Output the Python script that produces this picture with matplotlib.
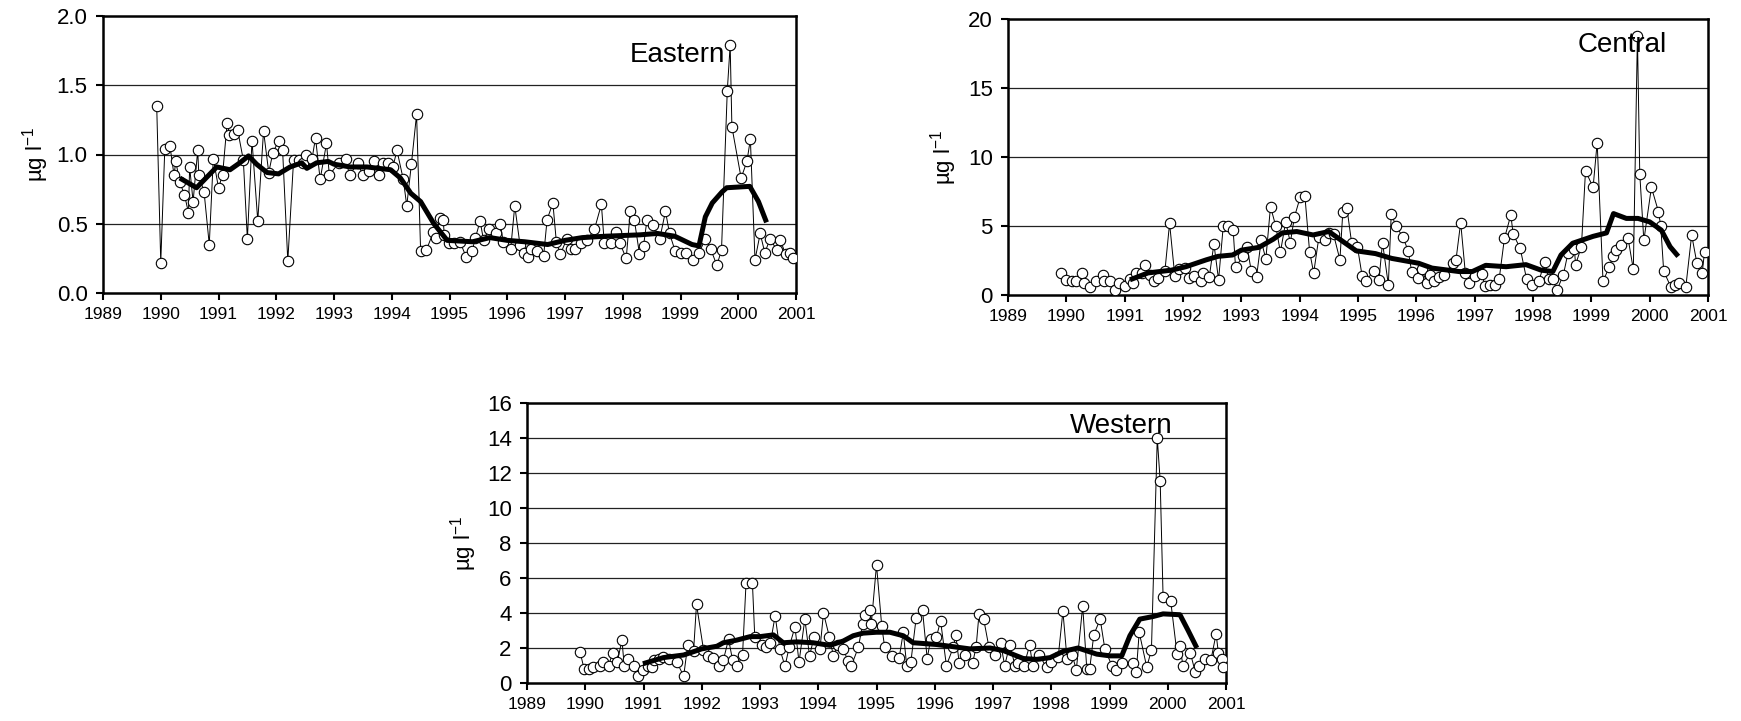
import numpy as np
import matplotlib
matplotlib.use('Agg')
import matplotlib.pyplot as plt

plt.rcParams['font.family'] = ['Liberation Sans', 'DejaVu Sans']
plt.rcParams['mathtext.fontset'] = 'custom'
plt.rcParams['mathtext.rm'] = 'Liberation Sans'

# ---- Eastern: samples (decimal year, ug/l) and running mean
east_t = [1989.93, 1990.00, 1990.07, 1990.16, 1990.23, 1990.26, 1990.33, 1990.41, 1990.48, 1990.50,
          1990.56, 1990.64, 1990.66, 1990.75, 1990.84, 1990.91, 1991.00, 1991.07, 1991.15, 1991.19,
          1991.27, 1991.33, 1991.43, 1991.50, 1991.58, 1991.68, 1991.78, 1991.87, 1991.94, 1992.04,
          1992.11, 1992.20, 1992.30, 1992.39, 1992.46, 1992.52, 1992.62, 1992.68, 1992.76, 1992.87,
          1992.92, 1993.08, 1993.20, 1993.27, 1993.41, 1993.50, 1993.60, 1993.69, 1993.78, 1993.85,
          1993.93, 1994.02, 1994.09, 1994.20, 1994.26, 1994.34, 1994.43, 1994.50, 1994.60, 1994.72,
          1994.76, 1994.83, 1994.89, 1994.91, 1994.99, 1995.08, 1995.18, 1995.29, 1995.39, 1995.45,
          1995.53, 1995.59, 1995.68, 1995.80, 1995.88, 1995.93, 1996.06, 1996.13, 1996.22, 1996.29,
          1996.36, 1996.41, 1996.51, 1996.63, 1996.69, 1996.79, 1996.85, 1996.92, 1997.03, 1997.11,
          1997.18, 1997.27, 1997.38, 1997.51, 1997.63, 1997.68, 1997.79, 1997.89, 1997.95, 1998.06,
          1998.13, 1998.20, 1998.29, 1998.36, 1998.42, 1998.53, 1998.64, 1998.74, 1998.81, 1998.91,
          1999.00, 1999.10, 1999.22, 1999.32, 1999.43, 1999.52, 1999.63, 1999.71, 1999.81, 1999.86,
          1999.89, 2000.05, 2000.15, 2000.21, 2000.29, 2000.38, 2000.46, 2000.55, 2000.67, 2000.73,
          2000.82, 2000.90, 2000.95]
east_v = [1.35, 0.22, 1.04, 1.06, 0.85, 0.95, 0.80, 0.71, 0.58, 0.91,
          0.66, 1.03, 0.85, 0.73, 0.35, 0.97, 0.76, 0.85, 1.23, 1.14,
          1.15, 1.18, 0.96, 0.39, 1.10, 0.52, 1.17, 0.87, 1.01, 1.10,
          1.03, 0.23, 0.96, 0.96, 0.94, 1.00, 0.97, 1.12, 0.82, 1.08,
          0.85, 0.94, 0.97, 0.85, 0.94, 0.85, 0.88, 0.95, 0.85, 0.94,
          0.94, 0.91, 1.03, 0.82, 0.63, 0.93, 1.29, 0.30, 0.31, 0.44,
          0.40, 0.54, 0.53, 0.42, 0.36, 0.36, 0.37, 0.26, 0.30, 0.40,
          0.52, 0.38, 0.46, 0.43, 0.50, 0.37, 0.32, 0.63, 0.35, 0.29,
          0.26, 0.32, 0.30, 0.27, 0.53, 0.65, 0.37, 0.28, 0.39, 0.32,
          0.32, 0.36, 0.38, 0.46, 0.64, 0.36, 0.36, 0.44, 0.36, 0.25,
          0.59, 0.53, 0.28, 0.34, 0.53, 0.49, 0.39, 0.59, 0.43, 0.30,
          0.29, 0.29, 0.24, 0.29, 0.39, 0.32, 0.20, 0.31, 1.46, 1.79,
          1.20, 0.83, 0.95, 1.11, 0.24, 0.43, 0.29, 0.39, 0.31, 0.38,
          0.28, 0.29, 0.25]
east_mt = [1990.33, 1990.62, 1990.97, 1991.20, 1991.37, 1991.52, 1991.66, 1991.84, 1992.04, 1992.24,
           1992.44, 1992.53, 1992.70, 1992.90, 1993.00, 1993.28, 1993.57, 1993.98, 1994.15, 1994.33,
           1994.50, 1994.73, 1994.96, 1995.40, 1995.70, 1996.00, 1996.30, 1996.70, 1997.00, 1997.30,
           1997.70, 1998.30, 1998.60, 1998.90, 1999.20, 1999.32, 1999.43, 1999.55, 1999.72, 1999.80,
           2000.20, 2000.35, 2000.49]
east_mv = [0.83, 0.76, 0.91, 0.89, 0.94, 0.99, 0.93, 0.87, 0.86, 0.91,
           0.94, 0.90, 0.94, 0.95, 0.93, 0.91, 0.91, 0.89, 0.83, 0.72,
           0.66, 0.50, 0.38, 0.37, 0.40, 0.38, 0.37, 0.35, 0.38, 0.40,
           0.41, 0.42, 0.43, 0.41, 0.35, 0.34, 0.55, 0.65, 0.73, 0.76,
           0.77, 0.66, 0.51]

# ---- Central
cent_t = [1989.91, 1989.99, 1990.09, 1990.16, 1990.26, 1990.30, 1990.40, 1990.50, 1990.62, 1990.64,
          1990.74, 1990.83, 1990.90, 1991.00, 1991.09, 1991.15, 1991.20, 1991.29, 1991.34, 1991.43,
          1991.50, 1991.57, 1991.69, 1991.77, 1991.86, 1991.93, 1992.03, 1992.11, 1992.18, 1992.30,
          1992.35, 1992.45, 1992.53, 1992.61, 1992.69, 1992.77, 1992.86, 1992.90, 1993.03, 1993.10,
          1993.17, 1993.26, 1993.34, 1993.42, 1993.50, 1993.59, 1993.67, 1993.76, 1993.84, 1993.91,
          1994.01, 1994.09, 1994.17, 1994.24, 1994.33, 1994.43, 1994.51, 1994.58, 1994.69, 1994.74,
          1994.81, 1994.89, 1994.99, 1995.07, 1995.14, 1995.27, 1995.36, 1995.42, 1995.52, 1995.57,
          1995.65, 1995.77, 1995.86, 1995.92, 1996.02, 1996.09, 1996.19, 1996.23, 1996.30, 1996.38,
          1996.48, 1996.62, 1996.68, 1996.76, 1996.84, 1996.91, 1997.01, 1997.12, 1997.18, 1997.26,
          1997.35, 1997.42, 1997.51, 1997.62, 1997.66, 1997.78, 1997.89, 1997.99, 1998.10, 1998.20,
          1998.27, 1998.34, 1998.41, 1998.52, 1998.60, 1998.71, 1998.73, 1998.83, 1998.90, 1999.03,
          1999.10, 1999.20, 1999.31, 1999.37, 1999.43, 1999.50, 1999.63, 1999.72, 1999.79, 1999.83,
          1999.90, 2000.03, 2000.15, 2000.19, 2000.24, 2000.36, 2000.44, 2000.51, 2000.62, 2000.72,
          2000.81, 2000.90, 2000.94]
cent_v = [1.6, 1.1, 1.0, 1.0, 1.6, 0.85, 0.6, 1.0, 1.45, 1.0,
          1.0, 0.35, 0.9, 0.65, 1.15, 0.9, 1.6, 1.6, 2.2, 1.45,
          1.0, 1.25, 1.75, 5.2, 1.35, 1.85, 1.95, 1.2, 1.4, 1.0,
          1.6, 1.3, 3.7, 1.1, 5.0, 5.0, 4.7, 2.05, 2.8, 3.45,
          1.75, 1.3, 3.95, 2.6, 6.4, 5.0, 3.1, 5.3, 3.8, 5.65,
          7.1, 7.15, 3.15, 1.6, 4.2, 3.95, 4.5, 4.4, 2.55, 6.05,
          6.3, 3.8, 3.5, 1.4, 1.05, 1.75, 1.1, 3.8, 0.75, 5.9,
          5.0, 4.2, 3.2, 1.7, 1.2, 1.85, 0.85, 1.45, 1.0, 1.3,
          1.45, 2.3, 2.55, 5.25, 1.6, 0.9, 1.4, 1.55, 0.65, 0.7,
          0.7, 1.15, 4.1, 5.8, 4.4, 3.4, 1.15, 0.75, 1.0, 2.4,
          1.15, 1.15, 0.35, 1.45, 3.05, 3.3, 2.2, 3.5, 9.0, 7.8,
          11.05, 1.0, 2.05, 2.8, 3.25, 3.6, 4.1, 1.85, 18.8, 8.8,
          3.95, 7.8, 6.05, 5.0, 1.75, 0.6, 0.75, 0.85, 0.6, 4.35,
          2.3, 1.6, 3.1]
cent_mt = [1991.09, 1991.40, 1991.80, 1992.05, 1992.40, 1992.60, 1992.85, 1993.00, 1993.30, 1993.55,
           1993.70, 1993.95, 1994.23, 1994.50, 1994.75, 1994.97, 1995.30, 1995.58, 1996.04, 1996.27,
           1996.73, 1996.96, 1997.19, 1997.54, 1997.88, 1998.14, 1998.34, 1998.48, 1998.68, 1999.03,
           1999.26, 1999.38, 1999.60, 1999.80, 2000.00, 2000.20, 2000.35, 2000.49]
cent_mv = [1.10, 1.60, 1.80, 2.05, 2.55, 2.80, 2.90, 3.25, 3.45, 4.05,
           4.50, 4.60, 4.35, 4.60, 3.85, 3.20, 3.00, 2.65, 2.30, 1.95,
           1.70, 1.70, 2.15, 2.05, 2.20, 1.80, 1.70, 2.90, 3.75, 4.25,
           4.50, 5.90, 5.55, 5.55, 5.30, 4.70, 3.50, 2.80]

# ---- Western
west_t = [1989.91, 1989.98, 1990.06, 1990.14, 1990.26, 1990.31, 1990.40, 1990.47, 1990.55, 1990.63,
          1990.67, 1990.74, 1990.83, 1990.91, 1990.99, 1991.07, 1991.14, 1991.18, 1991.26, 1991.33,
          1991.43, 1991.57, 1991.69, 1991.76, 1991.86, 1991.91, 1992.03, 1992.11, 1992.19, 1992.29,
          1992.37, 1992.46, 1992.53, 1992.61, 1992.70, 1992.76, 1992.87, 1992.91, 1993.03, 1993.10,
          1993.18, 1993.26, 1993.34, 1993.43, 1993.50, 1993.60, 1993.67, 1993.77, 1993.85, 1993.93,
          1994.03, 1994.09, 1994.19, 1994.26, 1994.34, 1994.43, 1994.51, 1994.57, 1994.69, 1994.76,
          1994.80, 1994.89, 1994.91, 1995.00, 1995.09, 1995.14, 1995.27, 1995.39, 1995.46, 1995.52,
          1995.59, 1995.68, 1995.79, 1995.87, 1995.93, 1996.03, 1996.10, 1996.20, 1996.32, 1996.36,
          1996.42, 1996.52, 1996.65, 1996.71, 1996.76, 1996.84, 1996.93, 1997.03, 1997.13, 1997.20,
          1997.29, 1997.38, 1997.43, 1997.53, 1997.63, 1997.68, 1997.79, 1997.92, 1998.00, 1998.12,
          1998.20, 1998.27, 1998.36, 1998.43, 1998.54, 1998.61, 1998.66, 1998.73, 1998.84, 1998.92,
          1999.04, 1999.11, 1999.21, 1999.40, 1999.46, 1999.51, 1999.64, 1999.72, 1999.82, 1999.87,
          1999.92, 2000.05, 2000.16, 2000.21, 2000.26, 2000.39, 2000.47, 2000.54, 2000.64, 2000.74,
          2000.83, 2000.87, 2000.93, 2000.95]
west_v = [1.8, 0.8, 0.8, 0.9, 0.95, 1.2, 1.0, 1.7, 1.2, 2.45,
          0.95, 1.35, 1.0, 0.4, 0.75, 1.0, 0.9, 1.3, 1.35, 1.5,
          1.35, 1.2, 0.4, 2.2, 1.85, 4.5, 1.9, 1.55, 1.45, 0.95,
          1.3, 2.5, 1.3, 0.95, 1.6, 5.7, 5.7, 2.65, 2.15, 2.05,
          2.3, 3.85, 1.95, 0.95, 2.05, 3.2, 1.2, 3.65, 1.55, 2.65,
          1.95, 4.0, 2.65, 1.55, 2.2, 1.95, 1.25, 1.0, 2.05, 3.35,
          3.9, 4.15, 3.35, 6.75, 3.25, 2.05, 1.55, 1.45, 2.9, 0.95,
          1.2, 3.7, 4.15, 1.4, 2.5, 2.65, 3.55, 1.0, 2.05, 2.75,
          1.15, 1.6, 1.15, 2.05, 3.95, 3.65, 2.05, 1.6, 2.3, 1.0,
          2.2, 0.95, 1.15, 1.0, 2.15, 1.0, 1.6, 0.9, 1.2, 1.5,
          4.1, 1.4, 1.6, 0.75, 4.4, 0.8, 0.8, 2.75, 3.65, 1.95,
          1.0, 0.75, 1.15, 1.15, 0.65, 2.9, 0.9, 1.9, 14.0, 11.55,
          4.9, 4.7, 1.65, 2.1, 1.0, 1.7, 0.65, 1.0, 1.35, 1.3,
          2.8, 1.7, 1.35, 0.9]
west_mt = [1990.99, 1991.34, 1991.69, 1992.00, 1992.26, 1992.37, 1992.60, 1992.83, 1993.00, 1993.23,
           1993.40, 1993.63, 1993.91, 1994.20, 1994.43, 1994.60, 1994.77, 1995.00, 1995.23, 1995.46,
           1995.63, 1996.03, 1996.26, 1996.60, 1996.95, 1997.18, 1997.52, 1997.75, 1997.98, 1998.20,
           1998.46, 1998.78, 1999.01, 1999.21, 1999.35, 1999.52, 1999.75, 1999.92, 2000.21, 2000.35,
           2000.50]
west_mv = [1.10, 1.45, 1.60, 1.95, 2.10, 2.30, 2.45, 2.65, 2.65, 2.75,
           2.30, 2.35, 2.30, 2.15, 2.40, 2.70, 2.85, 2.90, 2.90, 2.70,
           2.30, 2.20, 2.10, 1.95, 2.00, 1.85, 1.40, 1.35, 1.45, 1.80,
           2.00, 1.65, 1.55, 1.55, 2.70, 3.65, 3.80, 3.95, 3.90, 3.00,
           2.00]

years = np.arange(1989, 2002)

W, H = 1741, 721
fig = plt.figure(figsize=(W/100., H/100.), dpi=100)


def panel(box, t, v, mt, mv, yticks, fmt, name, name_xy, lab_x):
    l, t0, r, b = box
    ax = fig.add_axes([l/W, 1 - b/H, (r - l)/W, (b - t0)/H])
    ax.plot(t, v, '-', color='k', lw=0.7, zorder=3)
    ax.plot(t, v, 'o', mfc='white', mec='k', ms=7.5, mew=0.8, zorder=4)
    ax.plot(mt, mv, '-', color='k', lw=3.6, zorder=5, solid_capstyle='butt')
    ax.set_xlim(1989, 2001)
    ax.set_ylim(yticks[0], yticks[-1])
    ax.set_yticks(yticks)
    ax.set_yticklabels([fmt % y for y in yticks], fontsize=16)
    ax.set_xticks(years)
    ax.set_xticklabels([str(y) for y in years], fontsize=12.5,
                       family=['Liberation Sans Narrow', 'Liberation Sans'])
    for y in yticks[1:-1]:
        ax.axhline(y, color='#222222', lw=0.9, zorder=1)
    for s in ax.spines.values():
        s.set_linewidth(1.8)
    ax.tick_params(axis='y', direction='out', length=5, width=1.5, pad=6)
    ax.tick_params(axis='x', direction='out', length=5, width=1.5, pad=5)
    ax.set_ylabel(u'\u00b5g l$^{\\mathregular{-1}}$', fontsize=16)
    ax.yaxis.set_label_coords(lab_x, 0.5)
    ax.text(name_xy[0], name_xy[1], name, transform=ax.transAxes,
            fontsize=20, ha='left', va='baseline', zorder=6)
    return ax


panel((103, 16, 796, 293), east_t, east_v, east_mt, east_mv,
      [0.0, 0.5, 1.0, 1.5, 2.0], '%.1f', 'Eastern', (0.76, 0.834), -0.075)
panel((1008, 19, 1708, 295), cent_t, cent_v, cent_mt, cent_mv,
      [0, 5, 10, 15, 20], '%d', 'Central', (0.814, 0.88), -0.07)
panel((527, 403, 1226, 683), west_t, west_v, west_mt, west_mv,
      [0, 2, 4, 6, 8, 10, 12, 14, 16], '%d', 'Western', (0.777, 0.893), -0.068)

fig.savefig('out.png', dpi=100)
